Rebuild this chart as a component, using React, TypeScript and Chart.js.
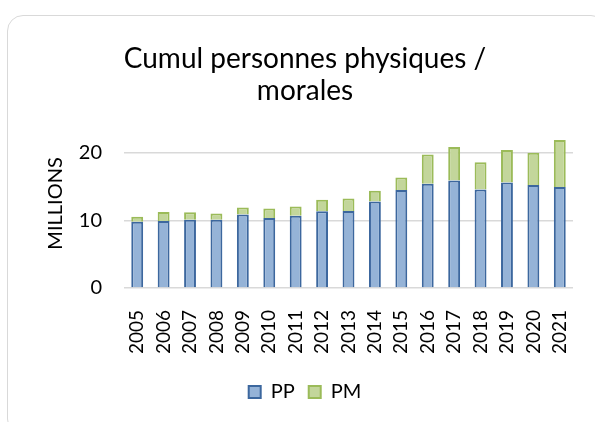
import React, { useEffect, useRef } from "react";
import { Chart, registerables } from "chart.js";

Chart.register(...registerables);

const years = ["2005","2006","2007","2008","2009","2010","2011","2012","2013","2014","2015","2016","2017","2018","2019","2020","2021"];
const ppValues = [9.8, 9.9, 10.1, 10.1, 10.85, 10.35, 10.7, 11.35, 11.4, 12.8, 14.5, 15.4, 15.9, 14.55, 15.6, 15.25, 14.95];
const pmValues = [0.75, 1.35, 1.1, 0.9, 1.05, 1.4, 1.35, 1.7, 1.85, 1.6, 1.85, 4.35, 4.95, 4.05, 4.8, 4.75, 6.95];
const yTicks = [0, 10, 20];
const titleLines = ["Cumul personnes physiques /", "morales"];

const FONT = "Lato, 'Open Sans', sans-serif";

export default function App() {
  const ref = useRef<HTMLCanvasElement | null>(null);
  useEffect(() => {
    document.body.style.margin = "0";
    const ctx = ref.current!.getContext("2d")!;
    const chart = new Chart(ctx, {
      type: "bar",
      data: {
        labels: years,
        datasets: [
          {
            label: "PP",
            data: ppValues,
            backgroundColor: "#95B3D7",
            borderColor: "#3C679E",
            borderWidth: 2,
            barPercentage: 0.9,
            categoryPercentage: 0.5,
          },
          {
            label: "PM",
            data: pmValues,
            backgroundColor: "#C3D69B",
            borderColor: "#9BBB59",
            borderWidth: 2,
            barPercentage: 0.9,
            categoryPercentage: 0.5,
          },
        ],
      },
      options: {
        animation: false,
        responsive: false,
        maintainAspectRatio: false,
        layout: { padding: { left: 37, right: 22, top: 43, bottom: 10 } },
        plugins: {
          title: {
            display: true,
            text: titleLines,
            color: "#000",
            font: { family: FONT, size: 28, weight: "normal", lineHeight: 1.143 },
            padding: { top: 0, bottom: 12 },
          },
          legend: {
            display: true,
            position: "bottom",
            labels: {
              color: "#000",
              font: { family: FONT, size: 20 },
              boxWidth: 12,
              boxHeight: 12,
              padding: 14,
            },
          },
          tooltip: { enabled: false },
        },
        scales: {
          x: {
            stacked: true,
            grid: { display: false },
            border: { display: false },
            afterFit: (scale: any) => {
              scale.paddingRight = 0;
              scale.paddingLeft = 0;
            },
            ticks: {
              color: "#000",
              font: { family: FONT, size: 19 },
              minRotation: 90,
              maxRotation: 90,
              autoSkip: false,
              padding: 14,
            },
          },
          y: {
            stacked: true,
            min: 0,
            max: 25,
            afterBuildTicks: (scale: any) => {
              scale.ticks = yTicks.map((v) => ({ value: v }));
            },
            afterFit: (scale: any) => {
              scale.width = 87;
            },
            grid: { color: "#D9D9D9", lineWidth: 1.5, drawTicks: false },
            border: { display: false },
            ticks: {
              color: "#000",
              font: { family: FONT, size: 20 },
              padding: 22,
            },
            title: {
              display: true,
              text: "MILLIONS",
              color: "#000",
              font: { family: FONT, size: 20 },
              padding: { top: 7, bottom: 0 },
            },
          },
        },
      },
    });
    return () => chart.destroy();
  }, []);

  return (
    <div style={{ position: "fixed", left: 0, top: 0, width: 595, height: 422, background: "#fff" }}>
      <div
        style={{
          position: "absolute",
          left: 7,
          top: 15,
          width: 600,
          height: 420,
          border: "1px solid #D9D9D9",
          borderRadius: 16,
          boxSizing: "border-box",
        }}
      />
      <canvas ref={ref} width={595} height={422} style={{ position: "absolute", left: 0, top: 0 }} />
    </div>
  );
}
